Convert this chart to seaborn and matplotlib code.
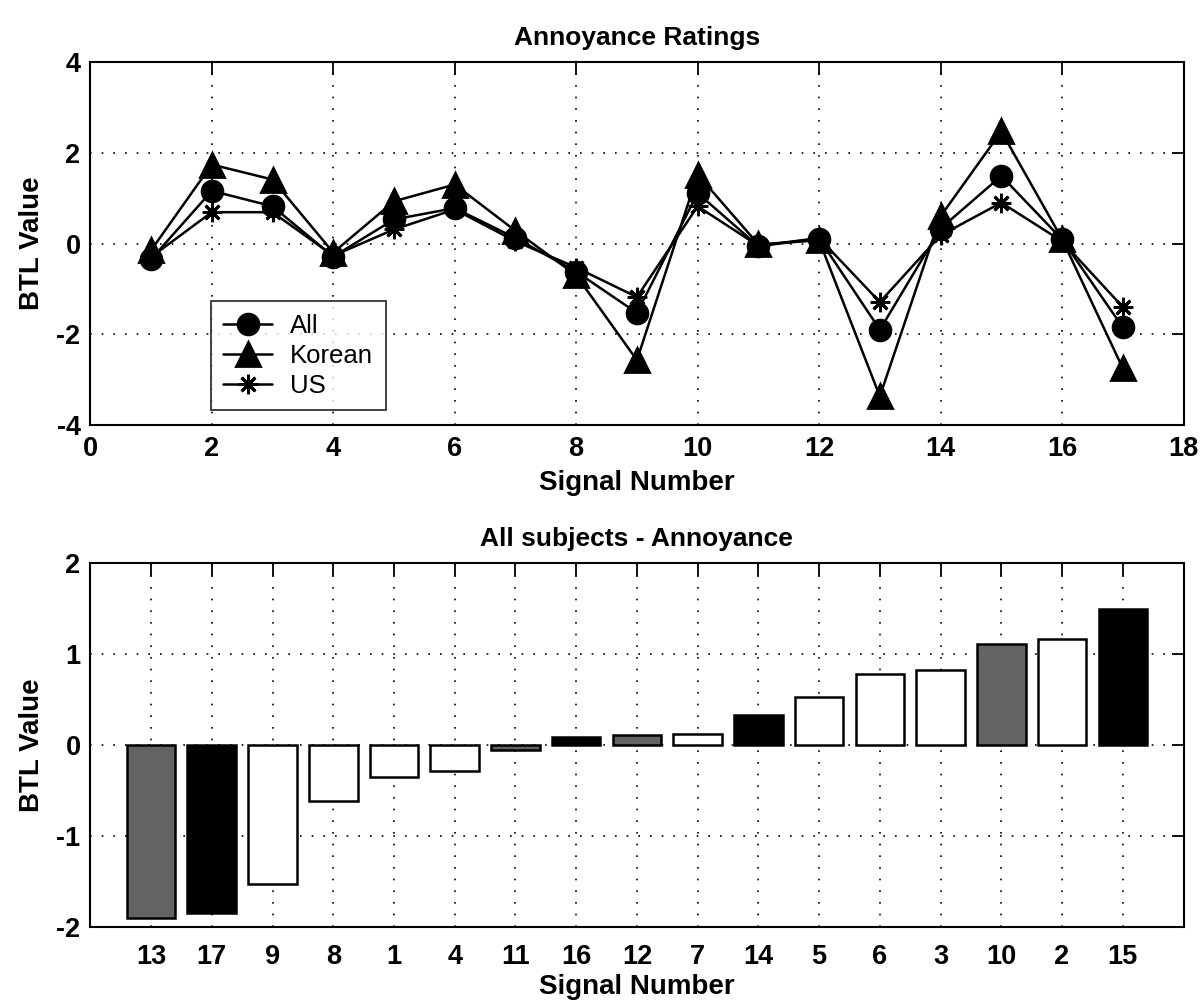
import pandas as pd
import matplotlib
matplotlib.use('Agg')
import matplotlib.pyplot as plt
import seaborn as sns

# BTL values per signal
signals = list(range(1, 18))
btl_all = [-0.35, 1.16, 0.82, -0.29, 0.53, 0.78, 0.12, -0.62, -1.53, 1.11,
           -0.06, 0.11, -1.90, 0.33, 1.49, 0.09, -1.85]
btl_korean = [-0.15, 1.74, 1.41, -0.20, 0.93, 1.30, 0.28, -0.70, -2.57, 1.52,
              -0.02, 0.07, -3.37, 0.60, 2.47, 0.10, -2.75]
btl_us = [-0.30, 0.69, 0.69, -0.27, 0.31, 0.75, 0.05, -0.53, -1.18, 0.82,
          -0.05, 0.12, -1.29, 0.18, 0.90, 0.05, -1.40]

# bar shading per signal in the ranked plot
gray_signals = [13, 11, 12, 10]
black_signals = [17, 16, 14, 15]

sns.set_style('white')
plt.rcParams['font.family'] = ['Liberation Sans', 'DejaVu Sans']
plt.rcParams['axes.unicode_minus'] = False
plt.rcParams['text.color'] = 'black'
plt.rcParams['axes.labelcolor'] = 'black'

wide = pd.DataFrame({'signal': signals, 'All': btl_all,
                     'Korean': btl_korean, 'US': btl_us})

fig = plt.figure(figsize=(12.04, 10), dpi=100)
ax1 = fig.add_axes([0.075, 0.575, 0.908, 0.363])
ax2 = fig.add_axes([0.075, 0.073, 0.908, 0.364])

grid_kw = dict(color='black', linestyle=(0, (1, 6)), linewidth=1.2)
title_kw = dict(fontsize=19, fontweight='bold', pad=12, color='black')
label_kw = dict(fontsize=20, fontweight='bold', color='black')

# ---- top: ratings per signal
markers = {'All': 'o', 'Korean': '^', 'US': (8, 2, 0)}
msizes = {'All': 15, 'Korean': 17, 'US': 14}
for grp in ['All', 'Korean', 'US']:
    sns.lineplot(data=wide, x='signal', y=grp, marker=markers[grp],
                 color='black', markersize=msizes[grp], linewidth=1.8,
                 markeredgecolor='black', markeredgewidth=2,
                 label=grp, ax=ax1)
ax1.set_xlim(0, 18)
ax1.set_ylim(-4, 4)
ax1.set_xticks(range(0, 19, 2))
ax1.set_yticks(range(-4, 5, 2))
ax1.grid(True, **grid_kw)
ax1.set_axisbelow(True)
ax1.set_title('Annoyance Ratings', **title_kw)
ax1.set_xlabel('Signal Number', labelpad=6, **label_kw)
ax1.set_ylabel('BTL Value', labelpad=8, **label_kw)

handles, labels = ax1.get_legend_handles_labels()
leg = ax1.legend(handles, labels, loc='lower left', bbox_to_anchor=(0.11, 0.04),
                 fontsize=18.5, frameon=True, fancybox=False, edgecolor='black',
                 handlelength=1.9, borderaxespad=0, labelspacing=0.22,
                 borderpad=0.5, handletextpad=0.7, labelcolor='black')
leg.get_frame().set_linewidth(1.3)

# ---- bottom: ranked bars for all subjects
ranked = wide.sort_values('All').reset_index(drop=True)
ranked['label'] = ranked['signal'].astype(str)
palette = {}
for s in signals:
    if s in gray_signals:
        palette[str(s)] = '#636363'
    elif s in black_signals:
        palette[str(s)] = 'black'
    else:
        palette[str(s)] = 'white'

sns.barplot(data=ranked, x='label', y='All', hue='label', palette=palette,
            order=list(ranked['label']), width=0.8, saturation=1,
            edgecolor='black', linewidth=1.8, legend=False, ax=ax2)
ax2.set_xlim(-1, 17)
ax2.set_ylim(-2, 2)
ax2.set_yticks([-2, -1, 0, 1, 2])
ax2.grid(True, **grid_kw)
ax2.set_axisbelow(True)
ax2.set_title('All subjects - Annoyance', **title_kw)
ax2.set_xlabel('Signal Number', labelpad=3, **label_kw)
ax2.set_ylabel('BTL Value', labelpad=8, **label_kw)

for ax in (ax1, ax2):
    for sp in ax.spines.values():
        sp.set_visible(True)
        sp.set_color('black')
        sp.set_linewidth(1.5)
    ax.tick_params(direction='in', length=9, width=1.3, top=True, right=True,
                   labelsize=19.5, colors='black')
    ax.tick_params(axis='y', pad=7)
    for lab in ax.get_xticklabels() + ax.get_yticklabels():
        lab.set_fontweight('bold')
ax1.tick_params(axis='x', pad=8)
ax2.tick_params(axis='x', pad=12)

fig.savefig('out.png', dpi=100)
